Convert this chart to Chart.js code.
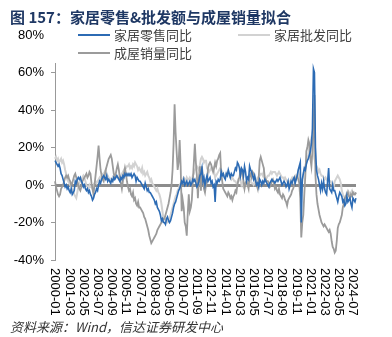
<!DOCTYPE html>
<html>
<head>
<meta charset="utf-8">
<script src="https://cdn.jsdelivr.net/npm/chart.js@4"></script>
<style>
	body { margin: 0; background: #fff; }
	#wrap { width: 392px; height: 337px; position: relative; }
</style>
</head>
<body>
<div id="wrap"><canvas id="chart"></canvas></div>
<script>
// monthly categories 2000-01 .. 2024-10
const months = [];
for (let y = 2000; y <= 2024; y++) {
	for (let m = 1; m <= 12; m++) {
		if (y === 2024 && m > 10) break;
		months.push(y + '-' + String(m).padStart(2, '0'));
	}
}

const tickLabels = ['2000-01', '2001-03', '2002-05', '2003-07', '2004-09', '2005-11',
	'2007-01', '2008-03', '2009-05', '2010-07', '2011-09', '2012-11', '2014-01',
	'2015-03', '2016-05', '2017-07', '2018-09', '2019-11', '2021-01', '2022-03',
	'2023-05', '2024-07'];

const yTicks = [-40, -20, 0, 20, 40, 60, 80];

const seriesNames = ['家居零售同比', '家居批发同比', '成屋销量同比'];

// 家居零售同比 (%)
const retail = [
	13, 12, 11, 10, 11, 9, 6, 5, 3, 1, -1, 0,
	-2, -1, -3, -4, -2, -5, -4, -3, 2, 1, 3, 4,
	3, 4, 2, 1, -1, 0, -2, -3, -2, -4, -3, -5,
	-6, -8, -7, -5, -4, -2, -3, 0, 2, 1, 3, 4,
	5, 4, 3, 5, 2, 3, 2, 1, 3, 2, 4, 3,
	4, 5, 4, 3, 2, 4, 3, 5, 4, 6, 5, 6,
	5, 6, 5, 6, 4, 5, 6, 5, 2, 4, 3, 2,
	2, 1, 0, -1, -2, 1, -1, -3, -2, -4, -4, -5,
	-6, -7, -8, -10, -9, -12, -13, -14, -16, -19, -18, -20,
	-20, -21, -18, -17, -19, -20, -19, -17, -15, -12, -10, -9,
	-7, -5, -3, -2, 0, 2, 1, 3, 0, 1, 2, 0,
	1, 2, 0, 1, 3, 2, 3, 1, -1, 0, 2, 5,
	6, 9, 2, 4, 0, 3, 5, 2, 3, 4, 1, 2,
	-1, 0, -9, 2, 1, 3, 2, 3, 7, 5, 6, 4,
	3, 6, 5, 8, 6, 4, 6, 5, 5, 7, 9, 8,
	12, 11, 9, 5, 9, 8, 5, 10, 7, 2, 4, 3,
	10, 8, 7, 5, 3, 5, 2, 0, 1, -1, 3, 2,
	0, 2, 1, 3, 2, 1, 0, -1, 1, 2, 3, 2,
	2, 1, 2, 3, 2, 3, 4, 2, 0, 1, 2, 1,
	-1, 0, 2, -2, 0, 2, 1, 3, 4, 1, 3, 5,
	8, 10, 12, -20, 3, 6, 9, 8, 11, 13, 14, 16,
	18, 22, 30, 62, 60, 20, 8, 5, 3, 0, -3, 1,
	-2, 2, -2, -4, -5, 2, 9, -2, -3, -4, 0, -3,
	-3, -5, -7, -9, -6, -4, -5, -6, -9, -8, -11, -10,
	-6, -9, -8, -7, -10, -12, -7, -8, -9, -7
];

// 家居批发同比 (%)
const wholesale = [
	14, 15, 13, 14, 12, 13, 14, 12, 13, 11, 8, 6,
	3, 2, 1, 0, -1, -2, -3, -5, -6, -7, -4, -1,
	1, 2, 3, 4, 5, 4, 2, 0, -1, -2, 0, -1,
	-1, -2, 0, 1, 2, 1, 2, 3, 4, 3, 5, 6,
	6, 7, 8, 6, 5, 4, 2, 3, 2, 4, 3, 4,
	5, 5, 4, 3, 4, 5, 6, 7, 8, 9, 9, 10,
	10, 11, 9, 10, 9, 11, 10, 12, 11, 10, 8, 9,
	8, 7, 9, 6, 7, 5, 6, 7, 5, 4, 2, 3,
	1, 0, -1, -2, -3, -2, -4, -5, -7, -10, -14, -18,
	-18, -19, -20, -20, -19, -18, -16, -14, -12, -10, -8, -6,
	-5, -3, -2, 0, 1, 2, 3, 4, 3, 2, 4, 3,
	3, 4, 3, 2, 5, 6, 8, 9, 10, 9, 8, 11,
	14, 15, 14, 12, 13, 13, 9, 8, 7, 8, 9, 8,
	9, 7, 4, 5, 6, 7, 8, 9, 8, 7, 6, 5,
	5, 6, 7, 6, 5, 4, 3, 4, 3, 2, 2, 1,
	1, 2, 3, 3, 0, 1, -1, 0, 1, 0, 1, 2,
	3, 2, 1, 1, 0, 1, 2, 3, 4, 4, 5, 6,
	6, 5, 7, 2, 3, 4, 5, 5, 6, 7, 6, 7,
	7, 7, 6, 5, 6, 7, 6, 5, 4, 4, 3, 4,
	3, 2, 2, 1, 2, 3, 4, 3, 4, 5, 4, 5,
	7, 5, 2, -4, 2, 5, 8, 10, 12, 14, 16, 20,
	22, 25, 24, 18, 14, 12, 10, 9, 7, 8, 6, 5,
	5, 4, 3, 4, 3, 2, 3, 2, 2, 1, 0, -1,
	2, 3, 4, 5, 4, 3, 1, -3, -5, -6, -7, -6,
	-4, -3, -4, -5, -4, -3, -5, -4, -5, -4
];

// 成屋销量同比 (%)
const sales = [
	2, -1, -3, -5, -6, -5, -2, -1, 0, 2, 4, 5,
	4, 5, 3, 2, 0, 1, 3, 5, 6, 4, 2, 0,
	-2, -3, -1, 2, 3, 4, 5, 6, 4, 5, 7, 6,
	1, -2, -5, 0, 5, 10, 15, 21, 14, 8, 5, 3,
	2, 5, 8, 10, 12, 14, 15, 16, 14, 10, 6, 4,
	6, 9, 11, 8, 4, 1, -2, 2, 6, 9, 6, 2,
	-1, -3, -2, -5, -6, -4, -8, -7, -10, -11, -9, -12,
	-12, -13, -14, -15, -17, -18, -20, -22, -24, -27, -29, -31,
	-30, -29, -28, -27, -26, -24, -23, -22, -21, -20, -19, -18,
	-18, -16, -14, -12, -10, -7, -4, 0, 8, 22, 43, 28,
	18, 8, 12, 24, 10, -14, -8, -12, -20, -22, -27, -15,
	-5, -14, -12, -8, 2, 12, 22, 12, 5, -7, 4, 10,
	-3, 10, 4, -2, -4, 0, 2, 9, 11, 12, 11, 9,
	7, 9, 12, 10, 13, 14, 16, 17, 6, 2, -2, -3,
	-4, -5, -6, -4, -5, -7, -6, -8, -6, -5, -3, -4,
	0, 3, 4, 8, 7, 5, 2, -2, 1, 2, 0, -2,
	5, 6, 4, 7, 6, 4, 2, 0, -2, 4, 13, 15,
	13, 11, 9, 4, 3, 2, 2, 1, -1, 0, 2, 3,
	1, -2, -1, -3, -4, -2, -5, -6, -7, -5, -6, -8,
	-9, -11, -8, -7, -6, -5, -3, -2, 0, 2, 4, 5,
	3, 1, -7, -28, -20, -16, -5, 5, 18, 20, 24, 22,
	14, 10, 18, 28, 48, 5, -5, -10, -13, -16, -18, -20,
	-21, -22, -21, -22, -23, -24, -25, -24, -26, -30, -33, -34,
	-36, -35, -30, -23, -21, -20, -18, -16, -12, -10, -7, -6,
	-5, -4, -6, -7, -5, -6, -4, -5, -5, -4
];

const colors = ['#2c6bb4', '#d2d2d2', '#9b9b9b'];

// title, legend, footer and rotated x labels
const decor = {
	id: 'decor',
	afterDraw(chart) {
		const ctx = chart.ctx;
		const xs = chart.scales.x;
		ctx.save();

		// x labels, rotated clockwise
		ctx.font = '13px "Liberation Sans", Arial, sans-serif';
		ctx.fillStyle = '#000';
		ctx.textAlign = 'left';
		ctx.textBaseline = 'middle';
		tickLabels.forEach((lab) => {
			const px = xs.getPixelForValue(months.indexOf(lab));
			ctx.save();
			ctx.translate(px, 268);
			ctx.rotate(Math.PI / 2);
			ctx.fillText(lab, 0, 0);
			ctx.restore();
		});

		// legend box
		ctx.fillStyle = '#fff';
		ctx.fillRect(50, 26, 315, 37);
		const items = [
			{ x: 78, y: 35, c: colors[0], t: seriesNames[0] },
			{ x: 238, y: 35, c: colors[1], t: seriesNames[1] },
			{ x: 78, y: 53, c: colors[2], t: seriesNames[2] },
		];
		ctx.font = '13px "Noto Sans CJK SC", sans-serif';
		items.forEach((it) => {
			ctx.strokeStyle = it.c;
			ctx.lineWidth = 2;
			ctx.beginPath();
			ctx.moveTo(it.x, it.y);
			ctx.lineTo(it.x + 32, it.y);
			ctx.stroke();
			ctx.fillStyle = '#404040';
			ctx.fillText(it.t, it.x + 36, it.y);
		});

		// title
		ctx.font = 'bold 15px "Noto Sans CJK SC", sans-serif';
		ctx.fillStyle = '#1f3864';
		ctx.fillText('图 157：家居零售&批发额与成屋销量拟合', 10, 17);

		// source
		ctx.font = 'italic 13px "Noto Sans CJK SC", sans-serif';
		ctx.fillStyle = '#333';
		ctx.fillText('资料来源：Wind，信达证券研发中心', 10, 327);
		ctx.restore();
	},
};

new Chart(document.getElementById('chart'), {
	type: 'line',
	data: {
		labels: months,
		datasets: [
			{
				label: seriesNames[0],
				data: retail,
				borderColor: colors[0],
				borderWidth: 1.6,
				pointRadius: 0,
				order: 0,
			},
			{
				label: seriesNames[1],
				data: wholesale,
				borderColor: colors[1],
				borderWidth: 2,
				pointRadius: 0,
				order: 2,
			},
			{
				label: seriesNames[2],
				data: sales,
				borderColor: colors[2],
				borderWidth: 1.8,
				pointRadius: 0,
				order: 1,
			},
		],
	},
	options: {
		responsive: true,
		maintainAspectRatio: false,
		animation: false,
		layout: { padding: { left: 0, right: 36, top: 35, bottom: 0 } },
		plugins: {
			legend: { display: false },
			title: { display: false },
			tooltip: { enabled: false },
		},
		scales: {
			x: {
				type: 'category',
				offset: false,
				ticks: { display: false },
				grid: { display: false },
				border: { display: false },
				afterFit: (s) => { s.height = 77; },
			},
			y: {
				min: -40,
				max: 80,
				afterBuildTicks: (s) => { s.ticks = yTicks.map((v) => ({ value: v })); },
				ticks: {
					padding: 7,
					color: '#000',
					font: { family: '"Liberation Sans", Arial, sans-serif', size: 13 },
					callback: (v) => v + '%',
				},
				grid: {
					color: (c) => (c.tick && c.tick.value === 0 ? '#8c8c8c' : 'rgba(0,0,0,0)'),
					lineWidth: (c) => (c.tick && c.tick.value === 0 ? 3 : 1),
					tickColor: '#999',
					tickLength: 4,
					tickWidth: 1,
				},
				border: { color: '#999', width: 1 },
				afterFit: (s) => { s.width = 55; },
			},
		},
	},
	plugins: [decor],
});
</script>
</body>
</html>
